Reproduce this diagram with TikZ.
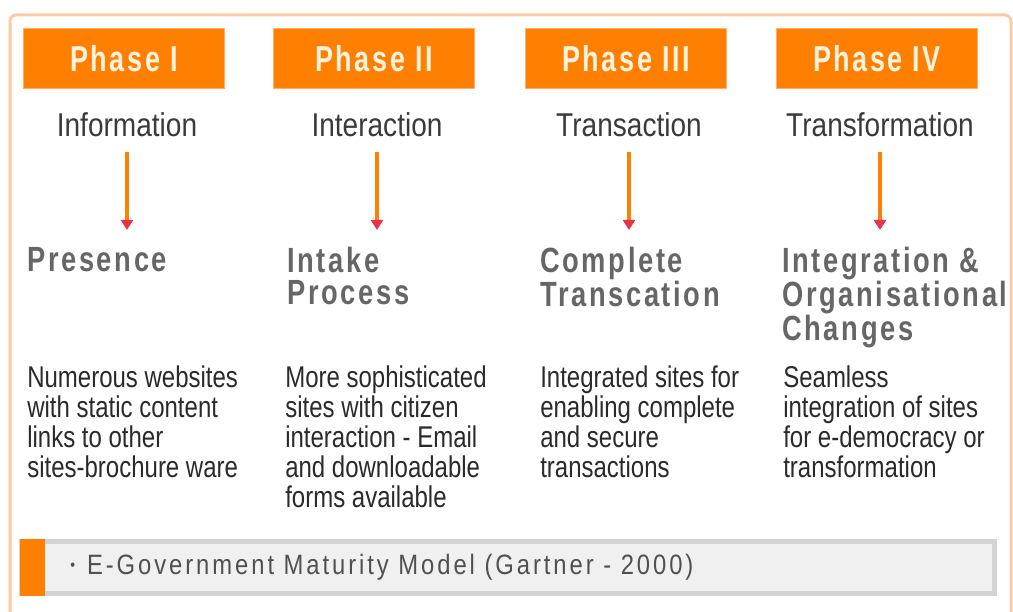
\documentclass[tikz,border=0pt]{standalone}
\usepackage{fontspec}
\usepackage{xcolor}
\usepackage{tikz}
\usetikzlibrary{arrows.meta, positioning, calc}
\setmainfont{Liberation Sans}
\newfontfamily\phasefont{Liberation Sans}[FakeStretch=0.75,LetterSpace=7]
\newfontfamily\stagefont{Liberation Sans}[FakeStretch=0.85]
\newfontfamily\levelfont{Liberation Sans}[FakeStretch=0.78,LetterSpace=7.5]
\newfontfamily\notefont{Liberation Sans}[FakeStretch=0.8]
\newfontfamily\barfont{Liberation Sans}[FakeStretch=0.85,LetterSpace=10.5]
\definecolor{phaseorange}{HTML}{FF8000}
\definecolor{phaseedge}{HTML}{FFB066}
\definecolor{phasetext}{HTML}{FFF3E0}
\definecolor{framecol}{HTML}{FFC9A3}
\definecolor{levelgray}{HTML}{666666}
\definecolor{stagegray}{HTML}{3A3A3A}
\definecolor{notegray}{HTML}{2A2A2A}
\definecolor{tipred}{HTML}{E8334A}
\definecolor{barfill}{HTML}{F0F0F0}
\definecolor{baredge}{HTML}{D3D3D3}
\definecolor{bartext}{HTML}{505050}

\begin{document}
\begin{tikzpicture}[x=1pt,y=-1pt,semithick]
  \tikzstyle{phase}=[fill=phaseorange,draw=phaseedge,line width=1pt,minimum width=201pt,minimum height=60pt,
    text=phasetext,font=\phasefont\bfseries\fontsize{36}{36}\selectfont]
  \tikzstyle{stage}=[inner sep=0pt,text=stagegray,font=\stagefont\fontsize{33}{33}\selectfont]
  \tikzstyle{level}=[anchor=north west,inner sep=0pt,align=left,text=levelgray,
    font=\levelfont\bfseries\fontsize{35}{32}\selectfont]
  \tikzstyle{note}=[anchor=north west,inner sep=0pt,align=left,text=notegray,
    font=\notefont\fontsize{30}{30}\selectfont]
  \tikzstyle{flow}=[draw=phaseorange,line width=3.5pt,-{Triangle[width=12pt,length=10pt,color=tipred]},
    shorten <=15pt,shorten >=17pt]

  \useasboundingbox (0,0) rectangle (1013,612);
  % outer frame, open at the bottom
  \draw[framecol,line width=3pt,rounded corners=6pt] (10,612) -- (10,15) -- (1011,15) -- (1011,612);

  % phase boxes
  \node[phase] (ph1) at (124,59) {Phase I};
  \node[phase] (ph2) at (374,59) {Phase II};
  \node[phase] (ph3) at (626,59) {Phase III};
  \node[phase] (ph4) at (877,59) {Phase IV};

  \node[stage] (st1) at (127,125) {Information};
  \node[stage] (st2) at (377,125) {Interaction};
  \node[stage] (st3) at (629,125) {Transaction};
  \node[stage] (st4) at (880,125) {Transformation};

  % levels
  \node[level] (lv1) at (27,247) {Presence};
  \node[level] (lv2) at (287,247) {Intake\\Process};
  \node[level] (lv3) at (540,247) {Complete\\Transcation};
  \node[level] (lv4) at (782,247) {Integration \&\\Organisational\\Changes};

  \path (st1) edge[flow] (st1 |- lv1.north)
        (st2) edge[flow] (st2 |- lv2.north)
        (st3) edge[flow] (st3 |- lv3.north)
        (st4) edge[flow] (st4 |- lv4.north);

  % descriptions
  \node[note] (nt1) at (27,365) {Numerous websites\\with static content\\links to other\\sites-brochure ware};
  \node[note] (nt2) at (285,365) {More sophisticated\\sites with citizen\\interaction - Email\\and downloadable\\forms available};
  \node[note] (nt3) at (540,365) {Integrated sites for\\enabling complete\\and secure\\transactions};
  \node[note] (nt4) at (783,365) {Seamless\\integration of sites\\for e-democracy or\\transformation};

  % caption bar
  \node[fill=barfill,draw=baredge,line width=5pt,minimum width=973pt,minimum height=52pt,inner sep=0pt] (bar) at (508,567.5) {};
  \node[fill=phaseorange,minimum width=25pt,minimum height=57pt,inner sep=0pt,anchor=west] (tab) at (20,567.5) {};
  \node[anchor=west,inner sep=0pt,text=bartext,font=\barfont\fontsize{28}{28}\selectfont] (cap) at (70,567)
    {{\fontsize{16}{16}\selectfont\raisebox{4pt}{•}}\hspace{12pt}E-Government Maturity Model (Gartner - 2000)};
\end{tikzpicture}
\end{document}
